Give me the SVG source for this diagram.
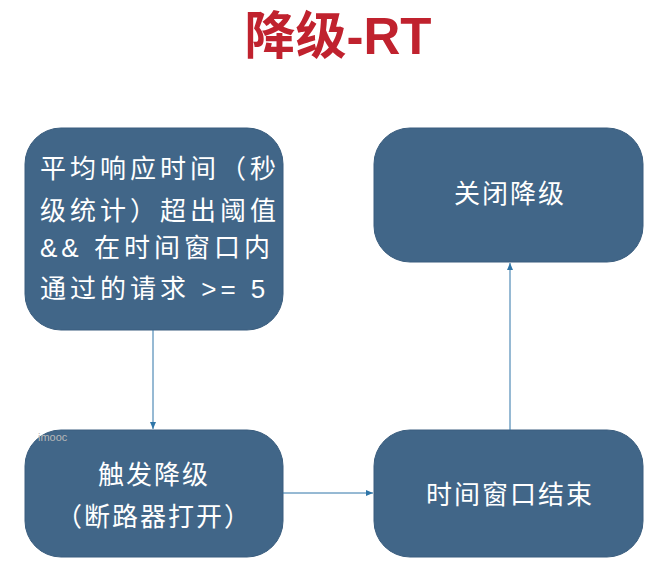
<svg xmlns="http://www.w3.org/2000/svg" width="664" height="574" viewBox="0 0 664 574">
<defs>
<marker id="ah" markerWidth="8" markerHeight="8" refX="7" refY="4" orient="auto" markerUnits="userSpaceOnUse"><path d="M0,1 L7,4 L0,7 Z" fill="#2e75a8"/></marker>
<style>
.box{fill:#416688;stroke:#3a5d7e;stroke-width:1}
.t{font-family:"Liberation Sans","Noto Sans CJK SC",sans-serif;font-size:26px;fill:#fff;letter-spacing:2px}
.w{letter-spacing:4px}
.c{stroke:#2e75a8;stroke-width:1;fill:none;marker-end:url(#ah)}
</style>
</defs>
<rect width="664" height="574" fill="#fff"/>
<text x="338" y="54" text-anchor="middle" font-family="Liberation Sans,Noto Sans CJK SC,sans-serif" font-weight="bold" font-size="51" fill="#c0222e">降级-RT</text>
<g id="n1"><rect class="box" x="25" y="128" width="258" height="202" rx="36"/>
<text class="t w" x="40" y="178">平均响应时间（秒</text>
<text class="t w" x="40" y="220">级统计）超出阈值</text>
<text class="t w" x="40" y="257">&amp;&amp; 在时间窗口内</text>
<text class="t w" x="40" y="298">通过的请求 &gt;= 5</text></g>
<g id="n2"><rect class="box" x="374" y="128" width="269" height="134" rx="36"/>
<text class="t" x="510" y="203" text-anchor="middle">关闭降级</text></g>
<g id="n3"><rect class="box" x="25" y="430" width="258" height="127" rx="36"/>
<text class="t" x="154" y="484" text-anchor="middle">触发降级</text>
<text class="t" x="154" y="526" text-anchor="middle">（断路器打开）</text></g>
<g id="n4"><rect class="box" x="374" y="430" width="269" height="127" rx="36"/>
<text class="t" x="510" y="504" text-anchor="middle">时间窗口结束</text></g>
<text x="38" y="441" font-family="Liberation Sans,sans-serif" font-size="11" fill="#b8b8b8">imooc</text>
<g id="connectors">
<path class="c" d="M153,330 L153,429"/>
<path class="c" d="M283,493 L373,493"/>
<path class="c" d="M510,430 L510,263"/>
</g>
</svg>
